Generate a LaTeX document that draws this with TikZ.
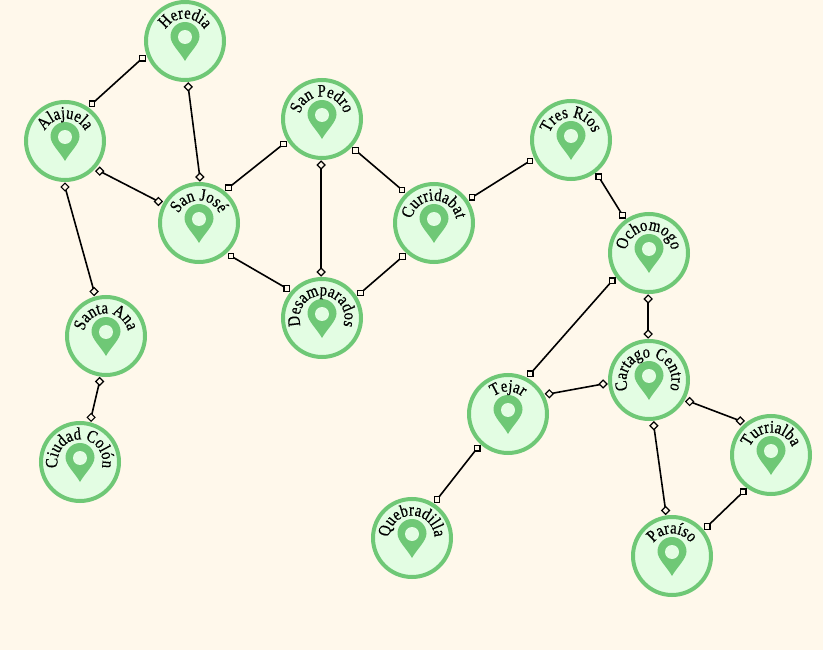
\documentclass[tikz,border=0pt]{standalone}
\usepackage{fontspec}
\newfontfamily\cityfamily[FakeStretch=0.84,FakeBold=0.5]{Liberation Serif}
\usetikzlibrary{decorations.text}
\definecolor{paper}{RGB}{255,248,235}
\definecolor{cityfill}{RGB}{227,253,227}
\definecolor{citygreen}{RGB}{111,200,118}
\newcommand{\cityfont}{\cityfamily\fontsize{17.5}{17.5}\selectfont}
\tikzset{
  city/.style={circle,draw=citygreen,fill=cityfill,line width=4pt,minimum size=78pt,outer sep=7pt,inner sep=0pt},
  sqmark/.style={rectangle,draw=black,fill=paper,line width=1.2pt,inner sep=0pt,minimum size=5.5pt},
  dimark/.style={sqmark,rotate=45},
  sqlink/.style={to path={-- (\tikztotarget) node[pos=0,sqmark,name=\tikztostart-end] {} node[pos=1,sqmark,name=\tikztotarget-end] {}}},
  dilink/.style={to path={-- (\tikztotarget) node[pos=0,dimark,name=\tikztostart-end] {} node[pos=1,dimark,name=\tikztotarget-end] {}}},
  pin/.pic={
    \fill[citygreen] (0,-20) .. controls (-5,-11) and (-14.5,-3) .. (-14.5,4.5)
      arc[start angle=180,end angle=0,radius=14.5]
      .. controls (14.5,-3) and (5,-11) .. (0,-20) -- cycle;
    \fill[cityfill] (0,4) circle[radius=7];
  }
}
\newcommand{\city}[4]{%
  \node[city] (#1) at (#2,#3) {};
  \pic at (#1) {pin};
  \path[decorate,decoration={text along path,text align=center,text={|\cityfont|#4}}]
    (#1) ++(250:22.5) arc[start angle=250,end angle=-70,radius=22.5];
}

\begin{document}
\begin{tikzpicture}[x=1pt,y=1pt,line width=1.6pt]
    \useasboundingbox[fill=paper] (0,-650) rectangle (823,0);
    \city{heredia}{185}{-41}{Heredia}
    \city{alajuela}{65}{-141}{Alajuela}
    \city{sanjose}{199}{-223}{San José}
    \city{sanpedro}{322}{-119}{San Pedro}
    \city{desamparados}{322}{-318}{Desamparados}
    \city{curridabat}{434}{-223}{Curridabat}
    \city{tresrios}{571}{-140}{Tres Ríos}
    \city{ochomogo}{649}{-253}{Ochomogo}
    \city{santaana}{106}{-336}{Santa Ana}
    \city{ciudadcolon}{80}{-462}{Ciudad Colón}
    \city{tejar}{508}{-414}{Tejar}
    \city{cartago}{649}{-380}{Cartago Centro}
    \city{turrialba}{771}{-455}{Turrialba}
    \city{paraiso}{672}{-556}{Paraíso}
    \city{quebradilla}{412}{-538}{Quebradilla}
    \path
    % west edges
    (heredia.202) edge [sqlink] (alajuela.54)
    (heredia.274) edge [dilink] (sanjose.89)
    (alajuela.319) edge [dilink] (sanjose.152)
    (alajuela.270) edge [dilink] (santaana.105)
    (santaana.262) edge [dilink] (ciudadcolon.76)
    % middle edges
    (sanjose.50) edge [sqlink] (sanpedro.213)
    (sanjose.314) edge [sqlink] (desamparados.140)
    (sanpedro.269) edge [dilink] (desamparados.91)
    (sanpedro.317) edge [sqlink] (curridabat.134)
    (desamparados.33) edge [sqlink] (curridabat.227)
    (curridabat.34) edge [sqlink] (tresrios.207)
    % east edges
    (tresrios.307) edge [sqlink] (ochomogo.125)
    (ochomogo.269) edge [dilink] (cartago.91)
    (ochomogo.217) edge [sqlink] (tejar.61)
    (tejar.26) edge [dilink] (cartago.185)
    (tejar.228) edge [sqlink] (quebradilla.57)
    (cartago.332) edge [dilink] (turrialba.132)
    (cartago.276) edge [dilink] (paraiso.98)
    (turrialba.233) edge [sqlink] (paraiso.40);
\end{tikzpicture}
\end{document}
